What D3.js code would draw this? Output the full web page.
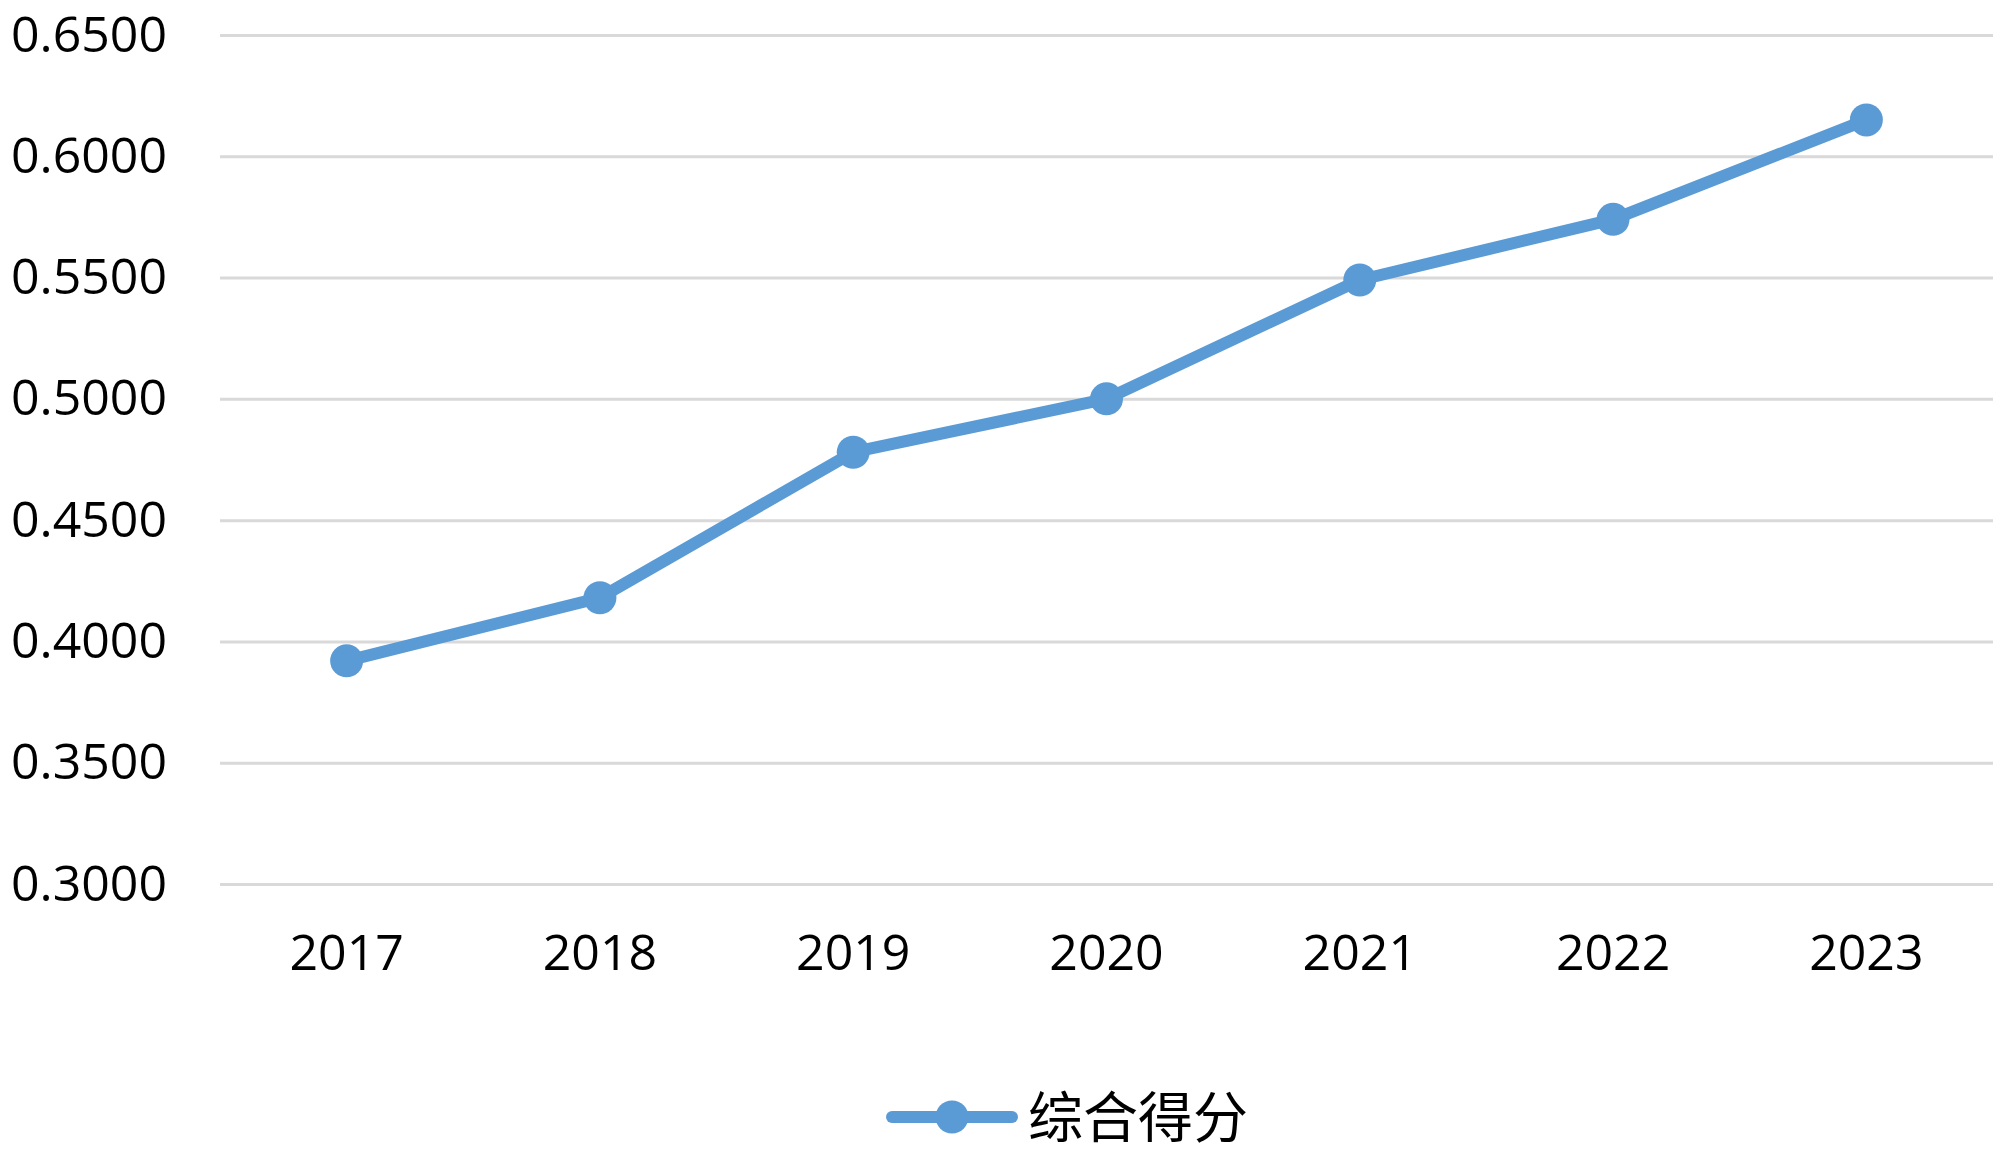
<!DOCTYPE html>
<html>
<head>
<meta charset="utf-8">
<script src="https://cdn.jsdelivr.net/npm/d3@7"></script>
<style>
  body { margin: 0; background: #fff; }
  text { font-family: "Open Sans", "Noto Sans", sans-serif; fill: #000; }
</style>
</head>
<body>
<div id="chart"></div>
<script>
// data
const years = ["2017", "2018", "2019", "2020", "2021", "2022", "2023"]
const scores = [0.392, 0.418, 0.478, 0.500, 0.549, 0.574, 0.615]
const yTicks = [0.30, 0.35, 0.40, 0.45, 0.50, 0.55, 0.60, 0.65]
const seriesName = "综合得分"

const svg_width = 2000
const svg_height = 1154
const margin = { top: 35, right: 7, bottom: 270, left: 220 },
    width = svg_width - margin.left - margin.right,
    height = svg_height - margin.top - margin.bottom;

const blue = "#5b9bd5"

const svg = d3.select("#chart")
    .append("svg")
    .attr("width", svg_width)
    .attr("height", svg_height)
    .append("g")
    .attr("transform", "translate(" + margin.left + "," + margin.top + ")");

const xScale = d3.scaleBand()
    .domain(years)
    .range([0, width]);

const yScale = d3.scaleLinear()
    .domain([0.30, 0.65])
    .range([height, 0]);

// gridlines + y labels
const yAxis = svg.append("g")
    .call(d3.axisLeft(yScale)
        .tickValues(yTicks)
        .tickSize(-width)
        .tickPadding(53)
        .tickFormat(d3.format(".4f")));
yAxis.select(".domain").remove();
yAxis.selectAll(".tick line")
    .attr("stroke", "#d9d9d9")
    .attr("stroke-width", 3);
yAxis.selectAll(".tick text")
    .style("font-size", "50px")
    .attr("fill", "#000");

// x labels
const xAxis = svg.append("g")
    .attr("transform", "translate(0," + height + ")")
    .call(d3.axisBottom(xScale).tickSize(0).tickPadding(50));
xAxis.select(".domain").remove();
xAxis.selectAll(".tick text")
    .style("font-size", "50px")
    .attr("fill", "#000");

const line = d3.line()
    .x((d, i) => xScale(years[i]) + xScale.bandwidth() / 2)
    .y(d => yScale(d));

svg.append("path")
    .datum(scores)
    .attr("d", line)
    .attr("fill", "none")
    .attr("stroke", blue)
    .attr("stroke-width", 12)
    .attr("stroke-linejoin", "round");

svg.append("g").selectAll("circle").data(scores)
    .enter().append("circle")
    .attr("cx", (d, i) => xScale(years[i]) + xScale.bandwidth() / 2)
    .attr("cy", d => yScale(d))
    .attr("r", 16.5)
    .style("fill", blue);

// legend
const legend = d3.select("svg").append("g")
    .attr("transform", "translate(886,1117)");
legend.append("line")
    .attr("x1", 6).attr("x2", 126)
    .attr("y1", 0).attr("y2", 0)
    .attr("stroke", blue)
    .attr("stroke-width", 12)
    .attr("stroke-linecap", "round");
legend.append("circle")
    .attr("cx", 66).attr("cy", 0)
    .attr("r", 16.5)
    .style("fill", blue);
legend.append("text")
    .attr("x", 142)
    .attr("y", 0)
    .attr("dy", "0.36em")
    .style("font-family", "'Noto Sans CJK SC', sans-serif")
    .style("font-size", "55px")
    .text(seriesName);
</script>
</body>
</html>
